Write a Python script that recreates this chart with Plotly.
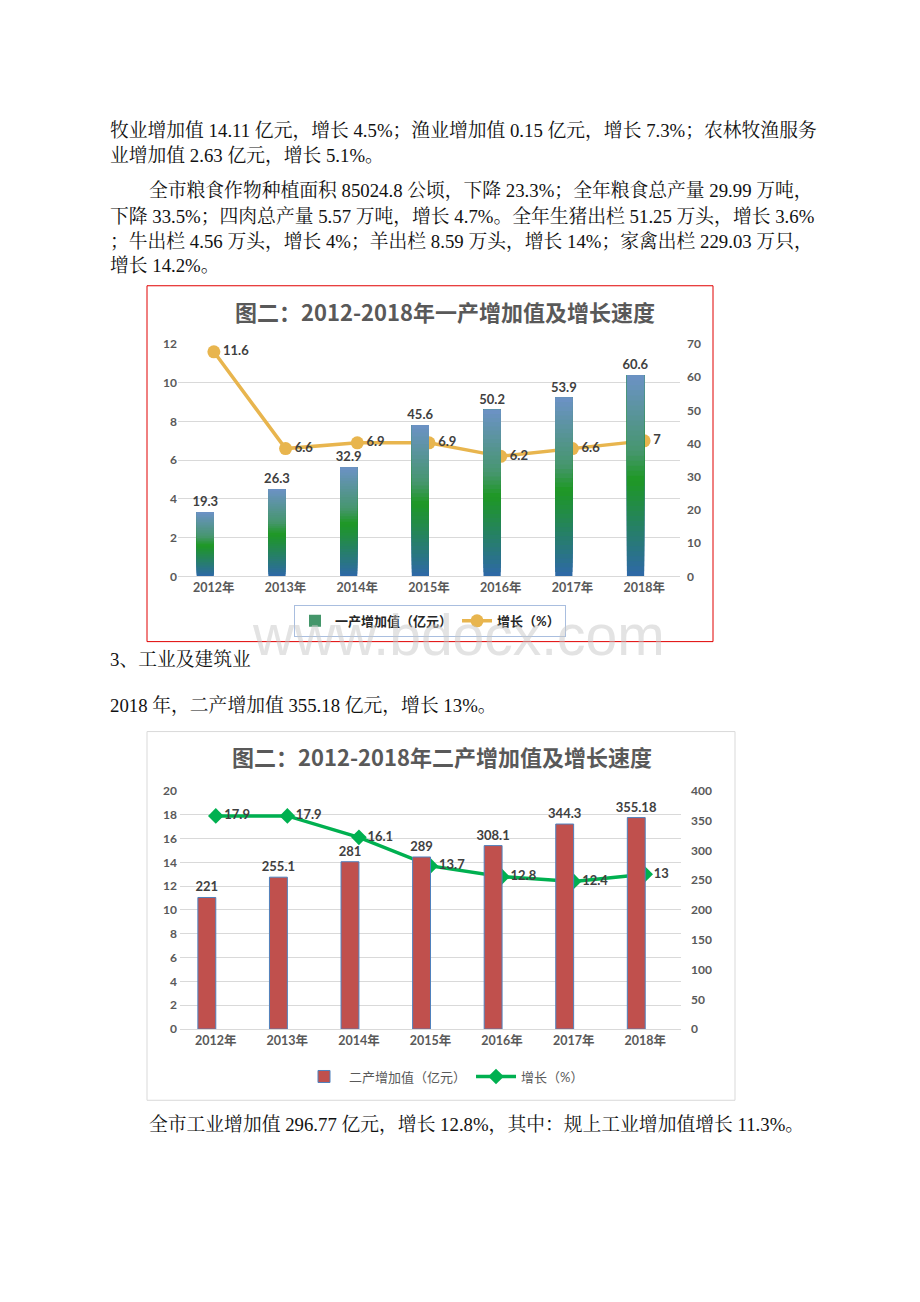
import plotly.graph_objects as go

# chart data
years = ["2012年", "2013年", "2014年", "2015年", "2016年", "2017年", "2018年"]
primary_value = [19.3, 26.3, 32.9, 45.6, 50.2, 53.9, 60.6]      # 一产增加值（亿元）
primary_growth = [11.6, 6.6, 6.9, 6.9, 6.2, 6.6, 7]              # 增长（%）
secondary_value = [221, 255.1, 281, 289, 308.1, 344.3, 355.18]   # 二产增加值（亿元）
secondary_growth = [17.9, 17.9, 16.1, 13.7, 12.8, 12.4, 13]      # 增长（%）

W, H = 920, 1302


def px(x):
    return x / W


def py(y):
    return 1 - y / H


LABEL_FONT = "Lato, 'Noto Sans CJK SC', sans-serif"
BODY_FONT = "'Liberation Serif', 'Noto Serif CJK SC', 'Noto Sans CJK SC', serif"
GRAY = "#595959"
DARK = "#404040"

# vertical gradient used for the first chart's bars (bottom -> top)
stops = [(0.0, (46, 104, 168)), (0.48, (30, 152, 36)), (0.62, (70, 150, 110)), (1.0, (108, 146, 198))]


def grad(t):
    for (t0, c0), (t1, c1) in zip(stops[:-1], stops[1:]):
        if t0 <= t <= t1:
            f = (t - t0) / (t1 - t0)
            c = [round(a + (b - a) * f) for a, b in zip(c0, c1)]
            return "rgb(%d,%d,%d)" % tuple(c)
    return "rgb(%d,%d,%d)" % stops[-1][1]


fig = go.Figure()

# ---- chart 1: bars as stacked layers to fake the gradient fill
N = 40
for k in range(N):
    t = k / N
    fig.add_trace(
        go.Bar(
            x=years,
            y=[v * (1 - t) for v in primary_value],
            base=[v * t for v in primary_value],
            width=0.24,
            offset=-0.24,
            marker=dict(color=grad(t + 0.5 / N), line=dict(width=0)),
            name="一产增加值（亿元）",
            showlegend=(k == 24),
            legend="legend",
            text=[str(v) for v in primary_value] if k == 0 else None,
            textposition="outside" if k == 0 else "none",
            constraintext="none",
            textfont=dict(family=LABEL_FONT, size=13, color=DARK, weight="bold"),
            cliponaxis=False,
            xaxis="x",
            yaxis="y2",
            hoverinfo="skip",
        )
    )

fig.add_trace(
    go.Scatter(
        x=years,
        y=primary_growth,
        mode="lines+markers+text",
        line=dict(color="#E8B54E", width=3.5),
        marker=dict(symbol="circle", size=13, color="#E8B54E"),
        text=[str(v) for v in primary_growth],
        textposition="middle right",
        textfont=dict(family=LABEL_FONT, size=13, color=DARK, weight="bold"),
        name="增长（%）",
        legend="legend",
        cliponaxis=False,
        xaxis="x",
        yaxis="y",
    )
)

# ---- chart 2
fig.add_trace(
    go.Bar(
        x=years,
        y=secondary_value,
        width=0.25,
        offset=-0.25,
        marker=dict(color="#C0504D", line=dict(color="#4F81BD", width=1)),
        text=[str(v) for v in secondary_value],
        textposition="outside",
        constraintext="none",
        textfont=dict(family=LABEL_FONT, size=13, color=DARK, weight="bold"),
        cliponaxis=False,
        name="二产增加值（亿元）",
        legend="legend2",
        xaxis="x2",
        yaxis="y4",
    )
)
fig.add_trace(
    go.Scatter(
        x=years,
        y=secondary_growth,
        mode="lines+markers+text",
        line=dict(color="#00B050", width=3.5),
        marker=dict(symbol="diamond", size=12, color="#00B050"),
        text=[str(v) for v in secondary_growth],
        textposition="middle right",
        textfont=dict(family=LABEL_FONT, size=13, color=DARK, weight="bold"),
        name="增长（%）",
        legend="legend2",
        cliponaxis=False,
        xaxis="x2",
        yaxis="y3",
    )
)

tickfont = dict(family=LABEL_FONT, size=12, color=GRAY, weight="bold")
xcommon = dict(type="category", range=[-0.5, 6.5], showgrid=False, showline=True,
               linecolor="#d9d9d9", linewidth=1, ticks="",
               tickfont=dict(family=LABEL_FONT, size=12.5, color=GRAY, weight="bold"),
               fixedrange=True)
ycommon = dict(showgrid=True, gridcolor="#d9d9d9", gridwidth=1, zeroline=False, showline=False,
               ticks="", tickfont=tickfont)

fig.update_layout(
    width=W,
    height=H,
    margin=dict(l=0, r=0, t=0, b=0),
    paper_bgcolor="white",
    plot_bgcolor="white",
    barmode="overlay",
    xaxis=dict(domain=[px(178), px(680)], anchor="y", **xcommon),
    yaxis=dict(domain=[py(575), py(340)], range=[0, 12], dtick=2, **ycommon),
    yaxis2=dict(overlaying="y", side="right", range=[0, 70], dtick=10, showgrid=False,
                zeroline=False, ticks="", tickfont=tickfont, ticklabelstandoff=6),
    xaxis2=dict(domain=[px(180), px(681)], anchor="y3", **xcommon),
    yaxis3=dict(domain=[py(1033), py(792)], range=[0, 20], dtick=2, **ycommon),
    yaxis4=dict(overlaying="y3", side="right", range=[0, 400], dtick=50, showgrid=False,
                zeroline=False, ticks="", tickfont=tickfont, ticklabelstandoff=10),
    legend=dict(orientation="h", x=px(430), y=py(620), xanchor="center", yanchor="middle",
                bordercolor="#A9BEDF", borderwidth=1, bgcolor="white",
                font=dict(family=LABEL_FONT, size=13, color="#262626", weight="bold"),
                itemwidth=30, tracegroupgap=0),
    legend2=dict(orientation="h", x=px(444), y=py(1081), xanchor="center", yanchor="middle",
                 bgcolor="rgba(0,0,0,0)",
                 font=dict(family=LABEL_FONT, size=13, color=GRAY), itemwidth=40),
    showlegend=True,
)

shapes = [
    dict(type="rect", xref="paper", yref="paper", x0=px(147), x1=px(713), y0=py(641), y1=py(281),
         line=dict(color="#E00000", width=1), layer="below"),
    dict(type="rect", xref="paper", yref="paper", x0=px(147), x1=px(735), y0=py(1105), y1=py(732),
         line=dict(color="#D9D9D9", width=1), layer="below"),
]
fig.update_layout(shapes=shapes)

annotations = [
    dict(text="<b>图二：2012-2018年一产增加值及增长速度</b>", x=px(445), y=py(307),
         font=dict(family="'Noto Sans CJK SC', sans-serif", size=22, color=GRAY)),
    dict(text="<b>图二：2012-2018年二产增加值及增长速度</b>", x=px(442), y=py(757),
         font=dict(family="'Noto Sans CJK SC', sans-serif", size=22, color=GRAY)),
    dict(text="www.bdocx.com", x=px(458), y=py(634),
         font=dict(family="'Liberation Sans', Arial, sans-serif", size=57, color="#c8c8c8"), opacity=0.5),
]
for a in annotations:
    a.update(xref="paper", yref="paper", showarrow=False, xanchor="center", yanchor="middle")

body = [
    (108, 124, "牧业增加值 14.11 亿元，增长 4.5%；渔业增加值 0.15 亿元，增长 7.3%；农林牧渔服务"),
    (108, 149, "业增加值 2.63 亿元，增长 5.1%。"),
    (147, 185, "全市粮食作物种植面积 85024.8 公顷，下降 23.3%；全年粮食总产量 29.99 万吨，"),
    (108, 211, "下降 33.5%；四肉总产量 5.57 万吨，增长 4.7%。全年生猪出栏 51.25 万头，增长 3.6%"),
    (108, 236, "；牛出栏 4.56 万头，增长 4%；羊出栏 8.59 万头，增长 14%；家禽出栏 229.03 万只，"),
    (108, 261, "增长 14.2%。"),
    (108, 659, "3、工业及建筑业"),
    (108, 706, "2018 年，二产增加值 355.18 亿元，增长 13%。"),
    (147, 1130, "全市工业增加值 296.77 亿元，增长 12.8%，其中：规上工业增加值增长 11.3%。"),
]
for x, y, t in body:
    annotations.append(dict(text=t, x=px(x), y=py(y), xref="paper", yref="paper", showarrow=False,
                            xanchor="left", yanchor="middle",
                            font=dict(family=BODY_FONT, size=18.8, color="#111111")))

fig.update_layout(annotations=annotations)

fig.write_html("out.html", config={"displayModeBar": False},
               post_script="document.body.style.margin='0';")
